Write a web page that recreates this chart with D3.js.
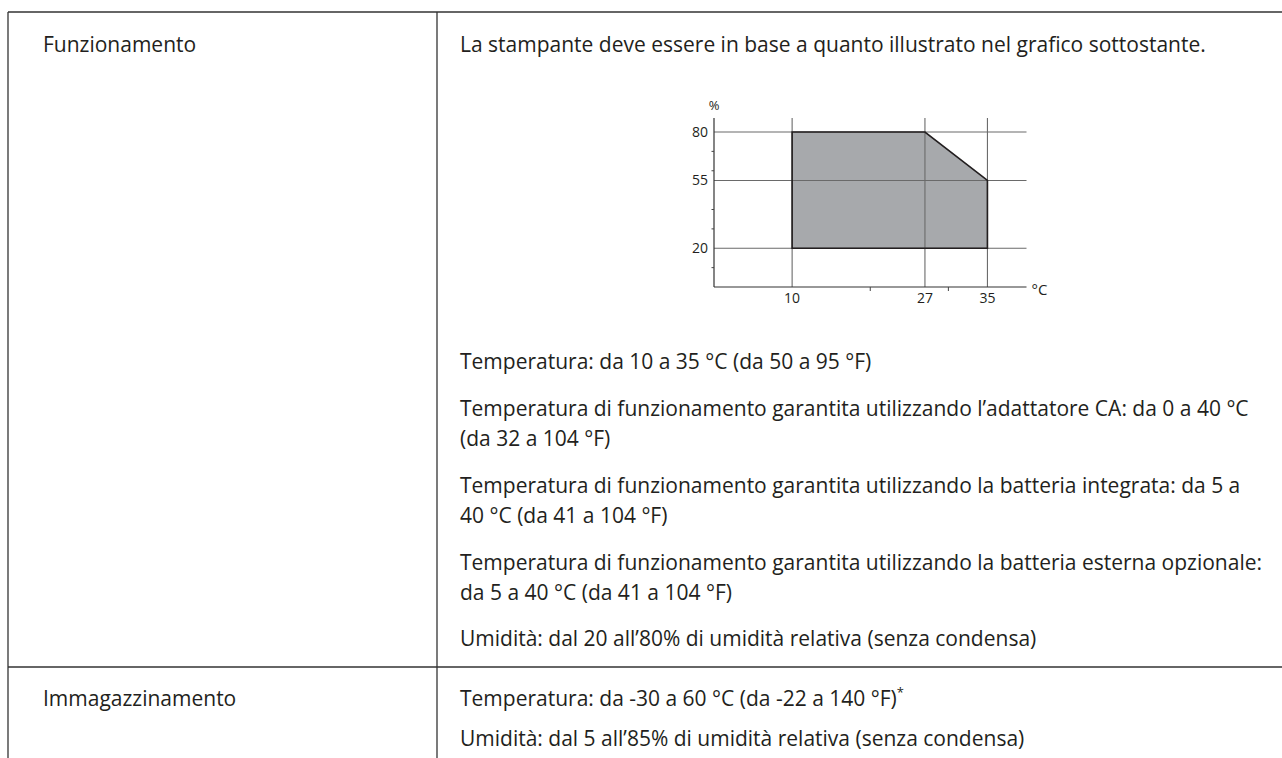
<!DOCTYPE html>
<html><head><meta charset="utf-8">
<script src="https://cdn.jsdelivr.net/npm/d3@7"></script>
<style>
html,body{margin:0;padding:0;background:#fff;}
svg text{font-family:"Open Sans",sans-serif;}
</style></head>
<body>
<svg id="c" width="1282" height="758"></svg>
<script>
// --- chart data ---
const polyTemp = [10, 10, 27, 35, 35];
const polyHum  = [20, 80, 80, 55, 20];
const xTickLabels = [10, 27, 35];
const yTickLabels = [20, 55, 80];
const xMinorTicks = [20, 30];
const yMinorTicks = [10, 30, 40, 60, 70];
const xUnit = "°C";
const yUnit = "%";

// --- table text ---
const rowLabels = ["Funzionamento", "Immagazzinamento"];
const headerText = "La stampante deve essere in base a quanto illustrato nel grafico sottostante.";
const opLines = [
  ["Temperatura: da 10 a 35 °C (da 50 a 95 °F)"],
  ["Temperatura di funzionamento garantita utilizzando l’adattatore CA: da 0 a 40 °C", "(da 32 a 104 °F)"],
  ["Temperatura di funzionamento garantita utilizzando la batteria integrata: da 5 a", "40 °C (da 41 a 104 °F)"],
  ["Temperatura di funzionamento garantita utilizzando la batteria esterna opzionale:", "da 5 a 40 °C (da 41 a 104 °F)"],
  ["Umidità: dal 20 all’80% di umidità relativa (senza condensa)"]
];
const storLines = [
  "Temperatura: da -30 a 60 °C (da -22 a 140 °F)",
  "Umidità: dal 5 all’85% di umidità relativa (senza condensa)"
];

const svg = d3.select("#c");
const fs = 21;
const colX = 437, textX = 460, labelX = 43;
const topY = 12, rowY = 667;

// table lines
const tl = svg.append("g").attr("stroke", "#333").attr("stroke-width", 1.3);
tl.append("line").attr("x1", 8).attr("x2", 1282).attr("y1", topY).attr("y2", topY);
tl.append("line").attr("x1", 8).attr("x2", 8).attr("y1", topY).attr("y2", 758);
tl.append("line").attr("x1", colX).attr("x2", colX).attr("y1", topY).attr("y2", 758);
tl.append("line").attr("x1", 8).attr("x2", 1282).attr("y1", rowY).attr("y2", rowY);

const txt = svg.append("g").attr("font-size", fs).attr("fill", "#231f20");
txt.append("text").attr("x", labelX).attr("y", 52).text(rowLabels[0]);
txt.append("text").attr("x", labelX).attr("y", 706).text(rowLabels[1]);
txt.append("text").attr("x", textX).attr("y", 52).text(headerText);

const paraY = [369, 416, 493, 570, 646];
opLines.forEach((p, i) => {
  p.forEach((l, j) => {
    txt.append("text").attr("x", textX).attr("y", paraY[i] + j * 30).text(l);
  });
});
const st = txt.append("text").attr("x", textX).attr("y", 706).text(storLines[0]);
st.append("tspan").attr("dy", -9).attr("font-size", 13).text("*");
txt.append("text").attr("x", textX).attr("y", 746).text(storLines[1]);

// --- chart ---
const x = d3.scaleLinear().domain([0, 40]).range([714, 1026.5]);
const y = d3.scaleLinear().domain([0, 80]).range([287, 132]);
const yTop = 118;
const g = svg.append("g");

// polygon fill
const pts = polyTemp.map((t, i) => [x(t), y(polyHum[i])]);
g.append("path").attr("d", d3.line()(pts) + "Z")
  .attr("fill", "#a7a9ac").attr("stroke", "none");

// grid lines
g.selectAll(".hg").data(yTickLabels).join("line")
  .attr("x1", x(0)).attr("x2", x(40)).attr("y1", d => y(d)).attr("y2", d => y(d))
  .attr("stroke", "#6a6a6a").attr("stroke-width", 1.1);
g.selectAll(".vg").data(xTickLabels).join("line")
  .attr("x1", d => x(d)).attr("x2", d => x(d)).attr("y1", yTop).attr("y2", y(0))
  .attr("stroke", "#6a6a6a").attr("stroke-width", 1.1);

// polygon outline
g.append("path").attr("d", d3.line()(pts) + "Z")
  .attr("fill", "none").attr("stroke", "#231f20").attr("stroke-width", 1.6);

// axes
g.append("line").attr("x1", x(0)).attr("x2", x(0)).attr("y1", yTop).attr("y2", y(0)).attr("stroke", "#333").attr("stroke-width", 1.2);
g.append("line").attr("x1", x(0)).attr("x2", x(40)).attr("y1", y(0)).attr("y2", y(0)).attr("stroke", "#333").attr("stroke-width", 1.2);

// minor ticks
g.selectAll(".ym").data(yMinorTicks).join("line")
  .attr("x1", x(0) - 2.5).attr("x2", x(0)).attr("y1", d => y(d)).attr("y2", d => y(d))
  .attr("stroke", "#444").attr("stroke-width", 1);
g.selectAll(".xm").data(xMinorTicks).join("line")
  .attr("x1", d => x(d)).attr("x2", d => x(d)).attr("y1", y(0)).attr("y2", y(0) + 4)
  .attr("stroke", "#444").attr("stroke-width", 1);

// labels
const lab = g.append("g").attr("font-size", 14).attr("fill", "#231f20")
  .style("font-family", "'Liberation Sans Narrow','Liberation Sans',Arial,sans-serif");
lab.selectAll(".yl").data(yTickLabels).join("text")
  .attr("x", x(0) - 6).attr("y", d => y(d)).attr("dy", "0.35em").attr("text-anchor", "end").text(d => d);
lab.selectAll(".xl").data(xTickLabels).join("text")
  .attr("x", d => x(d)).attr("y", y(0) + 16).attr("text-anchor", "middle").text(d => d);
lab.append("text").attr("x", x(0)).attr("y", 110).attr("text-anchor", "middle").attr("font-size", 13).text(yUnit);
lab.append("text").attr("x", x(40) + 5).attr("y", y(0) + 8).attr("font-size", 15).text(xUnit);
</script>
</body></html>
